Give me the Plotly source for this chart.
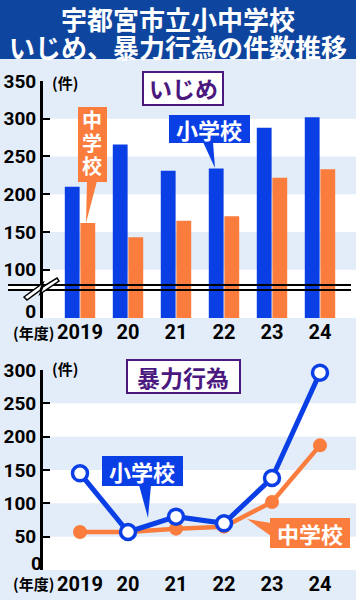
import plotly.graph_objects as go

# ---- data ----
years = ["2019", "20", "21", "22", "23", "24"]
ijime_elem = [210, 266, 231, 234, 288, 302]      # いじめ 小学校
ijime_jr = [162, 143, 165, 171, 222, 233]        # いじめ 中学校
boryoku_elem = [145, 57, 80, 70, 138, 296]       # 暴力行為 小学校
boryoku_jr = [57, 57, 62, 65, 102, 187]          # 暴力行為 中学校
top_ticks = [100, 150, 200, 250, 300, 350]
bottom_ticks = [50, 100, 150, 200, 250, 300]

BLUE = "#0b3fe6"
ORANGE = "#fa7d3d"
BG = "#e3edf9"
PURPLE = "#4b1880"
BANNER = "#0e459e"
CJK = "Noto Sans CJK JP"
NUM = "Liberation Sans Narrow, Roboto, sans-serif"

W, H = 356, 600
def X(p): return p / W
def Y(p): return 1 - p / H

fig = go.Figure()
# top chart bars (upper and lower panel of broken axis)
for ax in ["y", "y2"]:
    fig.add_bar(x=years, y=ijime_elem, marker_color=BLUE, marker_line_width=0,
                xaxis="x", yaxis=ax, name="小学校", showlegend=False)
    fig.add_bar(x=years, y=ijime_jr, marker_color=ORANGE, marker_line_width=0,
                xaxis="x", yaxis=ax, name="中学校", showlegend=False)
# bottom chart lines (blue on overlaying axis so it is drawn on top)
fig.add_scatter(x=years, y=boryoku_jr, mode="lines+markers", xaxis="x2", yaxis="y3",
                line=dict(color=ORANGE, width=4.5), cliponaxis=False,
                marker=dict(size=14, color=ORANGE), showlegend=False)
fig.add_scatter(x=years, y=boryoku_elem, mode="lines+markers", xaxis="x2", yaxis="y4",
                line=dict(color=BLUE, width=5), cliponaxis=False,
                marker=dict(size=15, color="white", line=dict(color=BLUE, width=3.5)),
                showlegend=False)

xcommon = dict(domain=[X(43), 1], range=[-0.771, 5.75], type="category",
               showline=False, ticks="", showgrid=False, zeroline=False, automargin=False,
               tickfont=dict(family=NUM, size=20, color="black", weight="bold"))
ycommon = dict(showline=True, linewidth=3, linecolor="black", ticks="inside",
               ticklen=7, tickwidth=2, tickcolor="black", showgrid=False,
               zeroline=False, ticklabelstandoff=0, automargin=False,
               tickfont=dict(family=NUM, size=19, color="black", weight="bold"))

fig.update_layout(
    width=W, height=H, margin=dict(l=0, r=0, t=0, b=0, pad=0, autoexpand=False),
    paper_bgcolor=BG, plot_bgcolor=BG, showlegend=False,
    barmode="group", bargap=0.35, bargroupgap=0.05,
    xaxis=dict(anchor="y2", **xcommon),
    xaxis2=dict(anchor="y3", **xcommon),
    yaxis=dict(domain=[Y(288), Y(81)], range=[75.8, 350], tickvals=top_ticks,
               anchor="x", **ycommon),
    yaxis2=dict(domain=[Y(318), Y(288)], range=[0, 40], tickvals=[0],
                ticklabelshift=-7, anchor="x", **ycommon),
    yaxis3=dict(domain=[Y(570), Y(370)], range=[0, 300], tickvals=bottom_ticks,
                anchor="x2", **ycommon),
    yaxis4=dict(overlaying="y3", domain=[Y(570), Y(370)], range=[0, 300], tickvals=[0],
                anchor="x2", ticklabelshift=-7,
                **{**ycommon, "showline": False}),
)

shapes = []
# banner
shapes.append(dict(type="rect", xref="paper", yref="paper", x0=0, x1=1, y0=Y(59), y1=1,
                   fillcolor=BANNER, line_width=0, layer="below"))
# stripes
for (a, b, ax) in [(250, 300, "y"), (150, 200, "y"), (75.8, 100, "y"), (0, 40, "y2"),
                   (200, 250, "y3"), (100, 150, "y3"), (0, 50, "y3")]:
    shapes.append(dict(type="rect", xref="paper", yref=ax, x0=X(43), x1=1, y0=a, y1=b,
                       fillcolor="white", line_width=0, layer="below"))
# break band
shapes.append(dict(type="rect", xref="paper", yref="paper", x0=X(8), x1=X(351),
                   y0=Y(290), y1=Y(285), fillcolor="white", line_width=0, layer="below"))
for yy in [285, 290]:
    shapes.append(dict(type="line", xref="paper", yref="paper", x0=X(8), x1=X(351),
                       y0=Y(yy), y1=Y(yy), line=dict(color="black", width=2)))

def path(pts):
    return "M " + " L ".join(f"{X(a):.5f},{Y(b):.5f}" for a, b in pts) + " Z"

# break zigzag mark
shapes.append(dict(type="path", xref="paper", yref="paper",
                   path=path([(24, 297), (43, 283), (41, 288), (57, 278), (59, 281),
                              (40, 294), (42, 289), (27, 300)]),
                   fillcolor="white", line=dict(color="black", width=1.5)))

# label boxes and pointers
def box(x0, y0, x1, y1, color):
    shapes.append(dict(type="rect", xref="paper", yref="paper", x0=X(x0), x1=X(x1),
                       y0=Y(y1), y1=Y(y0), fillcolor=color, line_width=0))
def tri(pts, color):
    shapes.append(dict(type="path", xref="paper", yref="paper", path=path(pts),
                       fillcolor=color, line_width=0))

# いじめ / 暴力行為 title boxes
shapes.append(dict(type="rect", xref="paper", yref="paper", x0=X(143), x1=X(223),
                   y0=Y(105), y1=Y(72), fillcolor="white", line=dict(color=PURPLE, width=2)))
shapes.append(dict(type="rect", xref="paper", yref="paper", x0=X(127), x1=X(240),
                   y0=Y(393), y1=Y(360), fillcolor="white", line=dict(color=PURPLE, width=2)))
# top 小学校
box(169, 115, 250, 143, BLUE)
tri([(203, 142), (213, 142), (215, 168)], BLUE)
# top 中学校 (vertical)
box(78, 107, 107, 182, ORANGE)
tri([(87, 181), (97, 181), (86, 223)], ORANGE)
# bottom 小学校
box(102, 456, 183, 486, BLUE)
tri([(139, 485), (151, 485), (148, 518)], BLUE)
# bottom 中学校
box(270, 518, 350, 548, ORANGE)
tri([(271, 523), (271, 536), (247, 519)], ORANGE)

fig.update_layout(shapes=shapes)

anns = []
def txt(s, x, y, size, color, family=CJK, xanchor="center"):
    anns.append(dict(text=s, x=X(x), y=Y(y), xref="paper", yref="paper", showarrow=False,
                     xanchor=xanchor, yanchor="middle",
                     font=dict(family=family, size=size, color=color, weight="bold")))

txt("宇都宮市立小中学校", 178, 19, 26, "white")
txt("いじめ、暴力行為の件数推移", 178, 46, 26, "white")
txt("いじめ", 183, 88, 23, PURPLE)
txt("暴力行為", 183, 377, 23, PURPLE)
txt("小学校", 209, 129, 22, "white")
txt("中", 92, 120, 20, "white")
txt("学", 92, 143, 20, "white")
txt("校", 92, 166, 20, "white")
txt("小学校", 142, 471, 22, "white")
txt("中学校", 310, 533, 22, "white")
txt("(件)", 50, 82, 15, "black", xanchor="left")
txt("(件)", 50, 368, 15, "black", xanchor="left")
txt("(年度)", 33, 332, 15, "black")
txt("(年度)", 33, 583, 15, "black")
fig.update_layout(annotations=anns)

fig.write_html("out.html", config={"displayModeBar": False},
               post_script="document.body.style.margin='0';")
